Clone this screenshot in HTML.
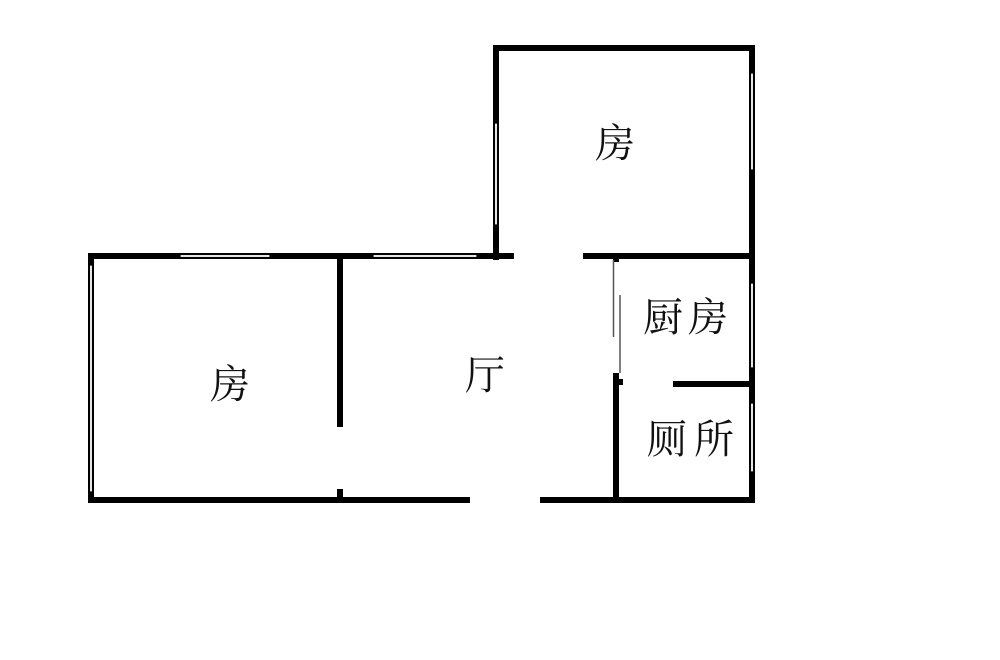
<!DOCTYPE html>
<html><head><meta charset="utf-8"><style>
html,body{margin:0;padding:0;background:#fff;width:1000px;height:660px;overflow:hidden}
text{font-family:"Liberation Serif","Noto Serif CJK SC","Noto Sans CJK SC",serif;fill:#111}
</style></head><body>
<svg width="1000" height="660" viewBox="0 0 1000 660" xmlns="http://www.w3.org/2000/svg">
<g fill="#000">
<!-- upper room -->
<rect x="493" y="45" width="262" height="6"/>
<rect x="493" y="45" width="6" height="215"/>
<rect x="749" y="45" width="6" height="455"/>
<!-- middle horizontal wall -->
<rect x="88" y="253" width="426" height="6"/>
<rect x="583" y="253" width="172" height="6"/>
<!-- left room -->
<rect x="88" y="253" width="6" height="250"/>
<rect x="88" y="497" width="382" height="6"/>
<rect x="540" y="497" width="215" height="6"/>
<!-- divider -->
<rect x="337" y="259" width="6" height="168"/>
<rect x="337" y="489" width="6" height="10"/>
<!-- kitchen wall -->
<rect x="613" y="373" width="6" height="127"/>
<rect x="613" y="379" width="10" height="6"/>
<rect x="613" y="256" width="6" height="6"/>
<!-- kitchen/toilet divider -->
<rect x="673" y="381" width="82" height="6"/>
</g>
<!-- windows -->
<g fill="#fff" stroke="#000" stroke-width="1.2">
<rect x="494.5" y="123" width="3" height="102"/>
<rect x="750.5" y="73" width="3" height="97"/>
<rect x="180" y="254.5" width="90" height="3"/>
<rect x="373" y="254.5" width="104" height="3"/>
<rect x="89.5" y="265" width="3" height="227"/>
<rect x="750.5" y="283" width="3" height="85"/>
<rect x="750.5" y="403" width="3" height="69"/>
</g>
<!-- door lines -->
<g stroke="#555" stroke-width="1.5">
<line x1="613.5" y1="260" x2="613.5" y2="337"/>
<line x1="620" y1="295" x2="620" y2="373"/>
</g>
<text x="615" y="157" font-size="40" text-anchor="middle">房</text>
<text x="230" y="398" font-size="40" text-anchor="middle">房</text>
<text x="485" y="389" font-size="40" text-anchor="middle">厅</text>
<text x="643" y="331" font-size="40" letter-spacing="5">厨房</text>
<text x="647" y="453" font-size="40" letter-spacing="7">厕所</text>
</svg>
</body></html>
